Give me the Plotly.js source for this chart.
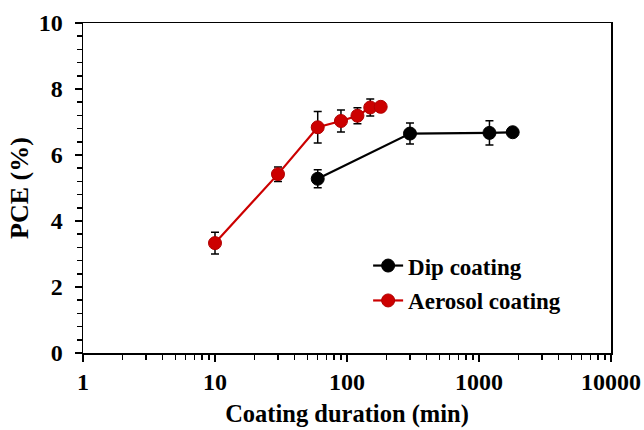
<!DOCTYPE html>
<html>
<head>
<meta charset="utf-8">
<script src="https://cdn.plot.ly/plotly-3.0.1.min.js"></script>
<style>html,body{margin:0;padding:0;background:#fff;}#chart{width:644px;height:430px;}</style>
</head>
<body>
<div id="chart"></div>
<script>
// Data
const dipDuration = [60, 300, 1200, 1800];
const dipPCE = [5.28, 6.65, 6.67, 6.69];
const dipErr = [0.27, 0.32, 0.37, 0.08];

const aerosolDuration = [10, 30, 60, 90, 120, 150, 180];
const aerosolPCE = [3.33, 5.42, 6.84, 7.03, 7.19, 7.44, 7.46];
const aerosolErr = [0.33, 0.22, 0.48, 0.33, 0.24, 0.26, 0.08];

const xTickVals = [1, 10, 100, 1000, 10000];
const xTickText = ['1', '10', '100', '1000', '10000'];
const xMinorVals = [2,3,4,5,6,7,8,9,20,30,40,50,60,70,80,90,200,300,400,500,600,700,800,900,2000,3000,4000,5000,6000,7000,8000,9000];
const yTickVals = [0, 2, 4, 6, 8, 10];

const serif = 'Liberation Serif, Times New Roman, serif';

const traces = [
  {
    name: 'Dip coating', x: dipDuration, y: dipPCE, type: 'scatter', mode: 'lines+markers',
    legendgroup: 'a',
    line: {color: '#000000', width: 2.2},
    marker: {color: '#000000', size: 13, line: {color: '#000000', width: 1}},
    error_y: {type: 'data', array: dipErr, visible: true, color: '#000000', thickness: 1.5, width: 4}
  },
  {
    name: 'Aerosol coating', x: aerosolDuration, y: aerosolPCE, type: 'scatter', mode: 'lines+markers',
    legendgroup: 'b',
    line: {color: '#cc0000', width: 2.2},
    marker: {color: '#cc0000', size: 13, line: {color: '#b00000', width: 1}},
    error_y: {type: 'data', array: aerosolErr, visible: true, color: '#000000', thickness: 1.5, width: 4}
  }
];

const layout = {
  width: 644, height: 430,
  margin: {l: 83, r: 33, t: 23, b: 77},
  paper_bgcolor: '#ffffff', plot_bgcolor: '#ffffff',
  font: {family: serif, color: '#000000', size: 23, weight: 'bold'},
  showlegend: true,
  legend: {
    x: 0.54, y: 0.33, xanchor: 'left', yanchor: 'top',
    bgcolor: 'rgba(0,0,0,0)', borderwidth: 0,
    font: {family: serif, size: 23, color: '#000000', weight: 'bold'},
    traceorder: 'grouped', tracegroupgap: 2, itemwidth: 30
  },
  xaxis: {
    type: 'log', range: [0, 4],
    tickmode: 'array', tickvals: xTickVals, ticktext: xTickText,
    ticks: 'outside', ticklen: 7, tickwidth: 1.5, tickcolor: '#000',
    minor: {tickmode: 'array', tickvals: xMinorVals, ticks: 'outside', ticklen: 5, tickwidth: 1.5, tickcolor: '#000', showgrid: false},
    showline: true, linecolor: '#000', linewidth: 1.5, mirror: true,
    showgrid: false, zeroline: false,
    tickfont: {family: serif, size: 24, color: '#000', weight: 'bold'},
    title: {text: 'Coating duration (min)', font: {family: serif, size: 24.5, color: '#000', weight: 'bold'}, standoff: 10}
  },
  yaxis: {
    range: [0, 10],
    tickmode: 'array', tickvals: yTickVals,
    ticks: 'outside', ticklen: 7, tickwidth: 1.5, tickcolor: '#000',
    ticklabelstandoff: 7,
    minor: {tickmode: 'linear', tick0: 0, dtick: 0.4, ticks: 'outside', ticklen: 5, tickwidth: 1.5, tickcolor: '#000', showgrid: false},
    showline: true, linecolor: '#000', linewidth: 1.5, mirror: true,
    showgrid: false, zeroline: false,
    tickfont: {family: serif, size: 24, color: '#000', weight: 'bold'},
    title: {text: 'PCE (%)', font: {family: serif, size: 26, color: '#000', weight: 'bold'}, standoff: 2}
  }
};

Plotly.newPlot('chart', traces, layout, {displayModeBar: false, staticPlot: true});
</script>
</body>
</html>
